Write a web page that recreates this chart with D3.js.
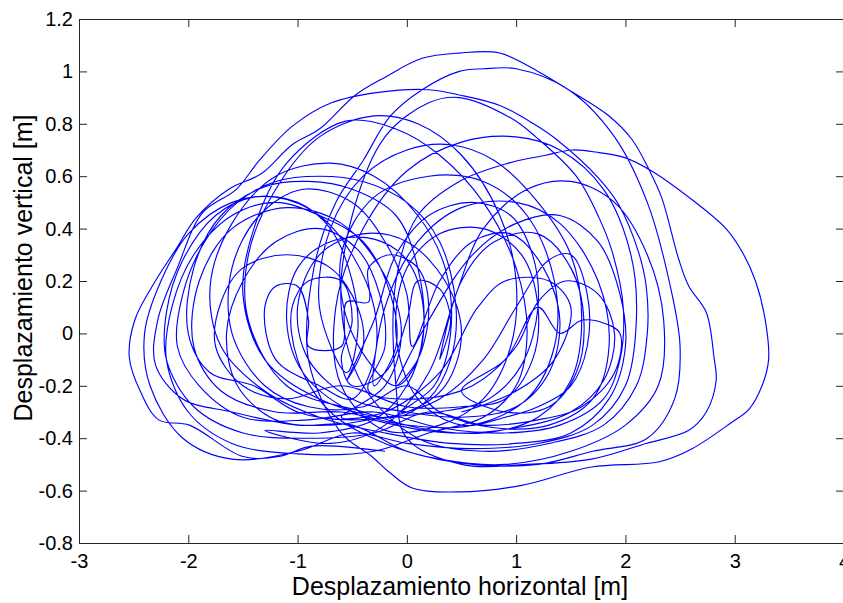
<!DOCTYPE html>
<html>
<head>
<meta charset="utf-8">
<script src="https://cdn.jsdelivr.net/npm/d3@7"></script>
<style>
  body { margin: 0; background: #fff; }
  text { font-family: "Liberation Sans", Arial, sans-serif; fill: #000; }
</style>
</head>
<body>
<svg id="chart" width="843" height="603"></svg>
<script>
// ticks y etiquetas
var ticksX = [-3, -2, -1, 0, 1, 2, 3, 4];
var ticksY = [-0.8, -0.6, -0.4, -0.2, 0, 0.2, 0.4, 0.6, 0.8, 1, 1.2];
var etiquetaX = "Desplazamiento horizontal [m]";
var etiquetaY = "Desplazamiento vertical [m]";

// trayectoria (x, y), vuelta por vuelta
var trayectoria = [
  [-0.2,-0.45],[-0.87,-0.43],[-1.17,-0.47],[-1.5,-0.47],[-1.99,-0.35],[-2.27,-0.33],[-2.44,-0.22],[-2.54,-0.09],[-2.49,0.05],[-2.33,0.18],[-2.1,0.33],[-1.93,0.44],[-1.63,0.55],[-1.33,0.61],[-1.05,0.72],[-0.80,0.78],[-0.47,0.91],[-0.19,0.98],[0.14,1.05],[0.48,1.07],[0.85,1.07],[1.2,1.0],[1.48,0.93],[1.85,0.83],[2.06,0.74],[2.21,0.63],[2.33,0.52],[2.49,0.28],[2.58,0.18],[2.74,0.08],[2.81,-0.09],[2.83,-0.18],[2.74,-0.30],[2.58,-0.37],[2.19,-0.42],[1.69,-0.48],[1.1,-0.5],[0.5,-0.5],[0.0,-0.4],
  [-0.1,-0.2],[-0.1,0.2],[0.1,0.45],[0.48,0.58],[0.93,0.65],[1.27,0.68],[1.51,0.70],[1.76,0.69],[2.0,0.67],[2.24,0.62],[2.61,0.51],[2.92,0.40],[3.07,0.31],[3.19,0.20],[3.28,0.05],[3.31,-0.10],[3.25,-0.2],[3.13,-0.29],[2.97,-0.34],[2.61,-0.44],[2.31,-0.49],[1.69,-0.51],[1.05,-0.58],[0.48,-0.605],[0.05,-0.59],[-0.16,-0.53],[-0.32,-0.47],[-0.6,-0.38],
  [-0.9,-0.1],[-0.85,0.25],[-0.65,0.5],[-0.4,0.66],[-0.15,0.83],[0.14,0.93],[0.48,1.0],[0.7,1.01],[1.0,1.01],[1.48,0.93],[1.9,0.75],[2.2,0.5],[2.4,0.2],[2.5,-0.05],[2.45,-0.25],[2.2,-0.4],[1.7,-0.45],[1.2,-0.5],[0.6,-0.5],[0.0,-0.45],[-0.5,-0.35],
  [-1.0,-0.35],[-1.6,-0.3],[-2.05,-0.25],[-2.3,-0.12],[-2.28,0.05],[-2.1,0.25],[-1.87,0.46],[-1.56,0.55],[-1.35,0.66],[-1.05,0.79],[-0.69,0.88],[-0.26,0.92],[0.2,0.93],[0.48,0.91],[0.85,0.87],[1.16,0.80],[1.37,0.74],[1.76,0.59],[1.94,0.49],[2.12,0.31],[2.19,0.18],[2.2,0.0],[2.1,-0.2],[1.8,-0.35],[1.3,-0.42],[0.7,-0.45],[0.1,-0.4],
  [-0.4,-0.2],[-0.6,0.1],[-0.5,0.45],[-0.2,0.75],[0.2,0.88],[0.48,0.90],[0.96,0.82],[1.18,0.75],[1.55,0.60],[1.76,0.44],[1.88,0.31],[1.98,0.1],[1.95,-0.1],[1.8,-0.25],[1.4,-0.35],[0.9,-0.38],[0.3,-0.36],[-0.3,-0.3],
  [-0.9,-0.33],[-1.5,-0.32],[-1.9,-0.2],[-2.1,-0.05],[-2.05,0.15],[-1.85,0.35],[-1.55,0.5],[-1.2,0.58],[-0.8,0.6],[-0.4,0.58],[0.0,0.5],[0.3,0.35],[0.45,0.1],[0.4,-0.1],[0.2,-0.25],[-0.1,-0.32],
  [-0.8,-0.25],[-1.3,-0.1],[-1.5,0.15],[-1.4,0.4],[-1.1,0.65],[-0.56,0.81],[-0.1,0.78],[0.3,0.68],[0.7,0.5],[1.0,0.25],[1.1,0.0],[1.0,-0.2],[0.7,-0.32],[0.2,-0.38],
  [-0.3,-0.45],[-1.0,-0.46],[-1.6,-0.42],[-2.0,-0.3],[-2.2,-0.1],[-2.15,0.1],[-1.95,0.3],[-1.6,0.45],[-1.2,0.5],[-0.8,0.45],[-0.4,0.35],[-0.15,0.15],[-0.1,-0.05],[-0.3,-0.2],
  [-0.2,0.1],[0.1,0.35],[0.5,0.48],[1.0,0.5],[1.4,0.42],[1.75,0.2],[1.85,-0.05],[1.7,-0.25],[1.3,-0.35],[0.8,-0.36],[0.3,-0.3],[0.0,-0.2],
  [-0.4,-0.28],[-0.9,-0.28],[-1.3,-0.2],[-1.6,0.0],[-1.6,0.25],[-1.35,0.45],[-0.95,0.55],[-0.5,0.5],[-0.2,0.35],[0.0,0.15],[0.05,-0.05],
  [0.3,0.2],[0.6,0.35],[0.95,0.38],[1.25,0.25],[1.4,0.05],[1.3,-0.15],[1.0,-0.28],[0.5,-0.32],[0.0,-0.3],[-0.5,-0.25],[-0.9,-0.1],
  [-1.0,0.1],[-0.8,0.3],[-0.4,0.38],[0.0,0.35],[0.35,0.2],[0.5,0.0],[0.35,-0.2],[0.0,-0.3],[-0.5,-0.33],[-1.0,-0.3],[-1.4,-0.2],
  [-1.8,-0.15],[-2.0,0.0],[-1.95,0.25],[-1.7,0.45],[-1.3,0.56],[-0.9,0.58],[-0.5,0.55],[-0.1,0.45],[0.1,0.25],[0.15,0.0],[0.0,-0.2],[-0.3,-0.33],[-0.8,-0.38],[-1.3,-0.37],
  [-0.7,-0.42],[-0.2,-0.35],[0.2,-0.15],[0.45,0.15],[0.7,0.4],[1.1,0.55],[1.5,0.58],[1.9,0.5],[2.2,0.3],[2.35,0.05],[2.3,-0.2],[2.0,-0.35],[1.5,-0.45],[0.9,-0.5],[0.3,-0.48],[-0.2,-0.42],
  [-0.7,-0.3],[-1.0,-0.1],[-1.05,0.1],[-0.9,0.2],[-0.6,0.2],[-0.5,0.05],[-0.6,-0.1],[-0.5,-0.2],[-0.2,-0.15],[0.0,0.05],[0.1,0.2],[0.3,0.17],[0.4,0.05],[0.3,-0.1],
  [0.5,0.2],[0.8,0.35],[1.2,0.38],[1.5,0.25],[1.62,0.05],[1.55,-0.15],[1.3,-0.28],[0.9,-0.3],[0.5,-0.22],
  [0.9,-0.1],[1.2,0.1],[1.4,0.0],[1.6,0.05],[1.8,0.04],[1.95,0.0],[1.9,-0.15],[1.6,-0.28],[1.2,-0.33],[0.7,-0.35],[0.2,-0.3],
  [-0.3,-0.38],[-0.9,-0.4],[-1.5,-0.38],[-1.95,-0.28],[-2.2,-0.1],[-2.2,0.08],[-2.05,0.28],[-1.75,0.45],[-1.4,0.52],[-1.0,0.5],[-0.7,0.4],[-0.5,0.2],[-0.45,0.0],[-0.55,-0.15],
  [-0.8,0.1],[-0.7,0.4],[-0.4,0.6],[0.0,0.7],[0.4,0.72],[0.8,0.66],[1.2,0.5],[1.5,0.3],[1.6,0.05],[1.5,-0.18],[1.2,-0.32],[0.7,-0.38],[0.1,-0.36],[-0.4,-0.3],
  [-1.1,-0.2],[-1.45,0.05],[-1.45,0.3],[-1.2,0.55],[-0.8,0.75],[-0.3,0.83],[0.1,0.8],[0.5,0.68],[0.85,0.45],[1.0,0.2],[0.95,-0.05],[0.7,-0.25],[0.3,-0.35],[-0.2,-0.37],
  [-0.6,-0.2],[-0.65,0.1],[-0.4,0.4],[0.0,0.62],[0.5,0.73],[1.0,0.75],[1.4,0.7],[1.8,0.55],[2.05,0.3],[2.1,0.05],[2.0,-0.2],[1.7,-0.35],[1.2,-0.42],[0.6,-0.44],[0.0,-0.42],[-0.5,-0.38],
  [-1.0,-0.45],[-1.6,-0.48],[-2.05,-0.4],[-2.35,-0.2],[-2.4,0.0],[-2.25,0.2],[-2.0,0.38],[-1.6,0.5],[-1.2,0.52],[-0.8,0.45],[-0.5,0.3],[-0.3,0.1],[-0.3,-0.1],[-0.5,-0.25],
  [-0.8,-0.2],[-1.2,-0.1],[-1.3,0.1],[-1.2,0.18],[-1.0,0.18],[-0.9,0.05],[-0.9,-0.05],[-0.6,-0.05],[-0.55,0.12],[-0.35,0.12],[-0.35,0.25],[-0.15,0.3],[0.1,0.25],[0.2,0.1],[0.1,-0.1],[-0.1,-0.2],
  [0.2,0.05],[0.6,0.3],[1.0,0.42],[1.4,0.45],[1.75,0.35],[1.95,0.15],[2.0,-0.05],[1.85,-0.25],[1.5,-0.38],[1.0,-0.42],[0.4,-0.42],[-0.2,-0.38],
  [-0.8,-0.32],[-1.3,-0.22],[-1.7,-0.05],[-1.8,0.18],[-1.6,0.42],[-1.2,0.6],[-0.7,0.65],[-0.3,0.6],[0.1,0.45],[0.35,0.25],[0.4,0.0],[0.25,-0.2],[-0.05,-0.3],
  [0.3,-0.25],[0.7,-0.1],[1.0,0.1],[1.3,0.28],[1.5,0.3],[1.65,0.15],[1.65,-0.05],[1.5,-0.2],[1.2,-0.28],[0.9,-0.32],[0.5,-0.35],
  [0.1,-0.25],[-0.1,0.0],[0.0,0.25],[0.3,0.38],[0.7,0.4],[1.05,0.3],[1.2,0.1],[1.15,-0.1],[0.9,-0.25],[0.5,-0.28],[0.0,-0.28],[-0.6,-0.2],
  [-1.1,-0.25],[-1.5,-0.2],[-1.75,-0.05],[-1.7,0.12],[-1.5,0.25],[-1.1,0.3],[-0.7,0.25],[-0.45,0.1],[-0.4,-0.05],[-0.55,-0.18],
  [-0.3,0.05],[-0.1,0.3],[0.2,0.45],[0.6,0.5],[0.95,0.45],[1.15,0.3],[1.2,0.1],[1.05,-0.12],[0.75,-0.25],[0.3,-0.3],[-0.2,-0.32],
  [-0.7,-0.35],[-1.2,-0.33],[-1.55,-0.2],[-1.65,0.0],[-1.5,0.2],[-1.2,0.35],[-0.8,0.4],[-0.45,0.32],[-0.25,0.15],[-0.2,-0.05],[-0.35,-0.22],
  [0.1,-0.25],[0.6,-0.2],[1.0,-0.05],[1.2,0.12],[1.45,0.2],[1.75,0.15],[1.9,0.0],[1.8,-0.18],[1.5,-0.3],[1.0,-0.36],[0.4,-0.38],[-0.1,-0.35],
  [-0.5,-0.3],[-0.95,-0.15],[-1.1,0.05],[-1.0,0.25],[-0.7,0.35],[-0.3,0.36],[0.0,0.28],[0.15,0.1],[0.1,-0.1],[-0.1,-0.2],
  [-0.5,0.0],[-0.6,0.3],[-0.3,0.52],[0.2,0.6],[0.7,0.58],[1.1,0.45],[1.35,0.2],[1.35,-0.05],[1.1,-0.25],[0.6,-0.35],[0.0,-0.35],[-0.6,-0.3],
  [-1.2,-0.3],[-1.7,-0.22],[-1.95,-0.05],[-1.9,0.2],[-1.6,0.4],[-1.1,0.48],[-0.6,0.42],[-0.2,0.22],[-0.05,0.0],[-0.2,-0.2],[-0.6,-0.32],
  [-0.2,-0.3],[0.3,-0.15],[0.65,0.1],[0.9,0.2],[1.3,0.2],[1.5,0.1],[1.35,-0.1],[1.0,-0.22],[0.5,-0.3]
];

var svg = d3.select("#chart");
var izq = 79, der = 844, arriba = 19, abajo = 543;

var x = d3.scaleLinear().domain([-3, 4]).range([izq, der]);
var y = d3.scaleLinear().domain([-0.8, 1.2]).range([abajo, arriba]);

svg.append("rect").attr("width", 843).attr("height", 603).attr("fill", "#fff");

// la curva
svg.append("defs").append("clipPath").attr("id", "recorte")
   .append("rect").attr("x", izq).attr("y", arriba)
   .attr("width", der - izq).attr("height", abajo - arriba);

var linea = d3.line()
              .x(function (d) { return x(d[0]); })
              .y(function (d) { return y(d[1]); })
              .curve(d3.curveCatmullRom.alpha(0.5));

svg.append("path")
   .datum(trayectoria)
   .attr("clip-path", "url(#recorte)")
   .attr("d", linea)
   .attr("fill", "none")
   .attr("stroke", "#0000ff")
   .attr("stroke-width", 1.15);

// ejes estilo matlab, ticks hacia adentro, guion normal en negativos
function guion(d) { return String(d).replace("\u2212", "-"); }
var ejeAbajo = d3.axisBottom(x).tickValues(ticksX).tickSize(-8).tickPadding(8).tickFormat(guion);
var ejeIzq = d3.axisLeft(y).tickValues(ticksY).tickSize(-8).tickPadding(6).tickFormat(guion);
var ejeArriba = d3.axisTop(x).tickValues(ticksX).tickSize(-8).tickFormat("");
var ejeDer = d3.axisRight(y).tickValues(ticksY).tickSize(-8).tickFormat("");

function estilo(g) {
    g.select(".domain").attr("stroke", "#262626").attr("stroke-width", 1);
    g.selectAll(".tick line").attr("stroke", "#262626");
    g.selectAll(".tick text").attr("font-size", 20).attr("font-family", "Liberation Sans, Arial, sans-serif").attr("fill", "#000");
}

svg.append("g").attr("transform", "translate(0," + abajo + ")").call(ejeAbajo).call(estilo)
   .selectAll(".tick text").attr("dy", "0.85em");
svg.append("g").attr("transform", "translate(" + izq + ",0)").call(ejeIzq).call(estilo);
svg.append("g").attr("transform", "translate(0," + arriba + ")").call(ejeArriba).call(estilo);
svg.append("g").attr("transform", "translate(" + der + ",0)").call(ejeDer).call(estilo);

// titulos de ejes
svg.append("text")
   .attr("x", 460).attr("y", 595)
   .attr("text-anchor", "middle").attr("font-size", 25)
   .text(etiquetaX);

svg.append("text")
   .attr("transform", "translate(32,268) rotate(-90)")
   .attr("text-anchor", "middle").attr("font-size", 25)
   .text(etiquetaY);
</script>
</body>
</html>
